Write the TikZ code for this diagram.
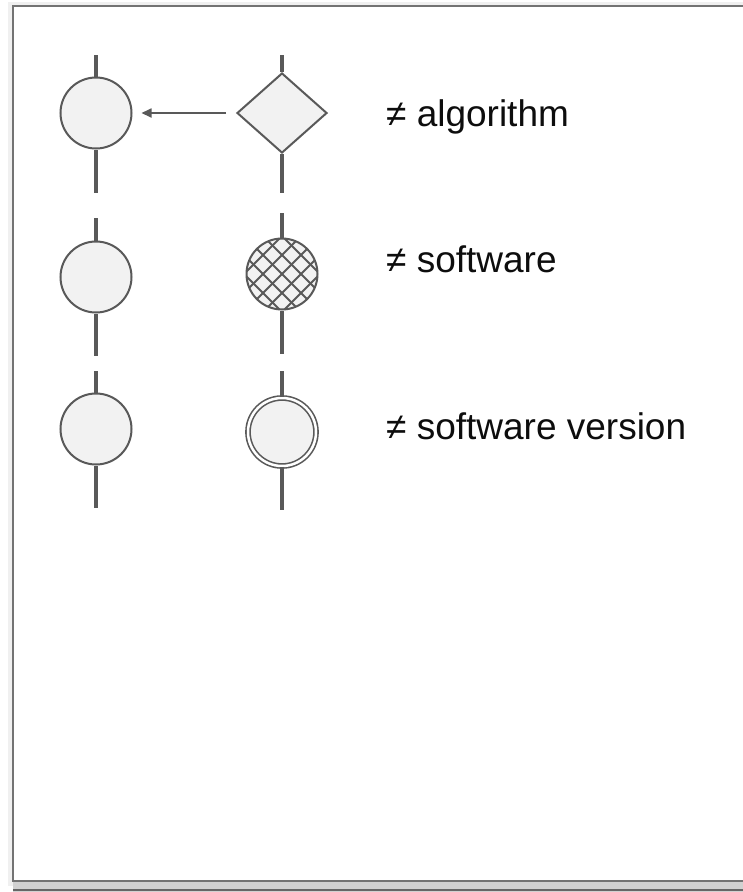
\documentclass[tikz,border=0pt]{standalone}
\usepackage{fontspec}
\setmainfont{Liberation Sans}
\usetikzlibrary{shapes.geometric,arrows.meta}
\definecolor{ink}{HTML}{595959}
\definecolor{paper}{HTML}{F2F2F2}
\begin{document}
\begin{tikzpicture}[x=1pt, y=-1pt
	, blob/.style={circle, draw=ink, fill=paper, line width=2pt
		, minimum size=71pt, inner sep=0pt}
	, rhomb/.style={diamond, draw=ink, fill=paper, line width=2pt
		, minimum width=90pt, minimum height=80pt, inner sep=0pt}
	, hatched/.style={blob, path picture={
		\foreach \k in {-76,-57,...,76}{
			\draw[ink, line width=2pt] ([shift={(\k-50,-50)}]path picture bounding box.center) -- ++(100,100);
			\draw[ink, line width=2pt] ([shift={(\k-50,50)}]path picture bounding box.center) -- ++(100,-100);
		}
	}}
	, ring/.style={blob, minimum size=68pt, line width=1.6pt
		, double=white, double distance=2.5pt}
	, stem/.style={draw=ink, line width=4pt}
	, link/.style={draw=ink, line width=1.7pt, -{Triangle[length=10pt, width=9pt]}
		, shorten <=10pt, shorten >=9pt}
	, lbl/.style={anchor=base west, inner sep=0pt, text=black!95
		, font=\fontsize{37}{44}\selectfont}
]

\useasboundingbox (0,0) rectangle (743,892);

% page
\fill[black!6] (8,2) rectangle (743,886);
\filldraw[fill=white, draw=black!55, line width=1.5pt] (13,6) rectangle (760,881);
\fill[black!18] (13,882) rectangle (743,892);
\draw[black!60, line width=1.5pt] (13,890) -- (743,890);

% shapes
\node[blob](a1) at(96,113) {};
\node[rhomb](d1) at(282,113) {};
\node[blob](a2) at(96,277) {};
\node[hatched](h2) at(282,274) {};
\node[blob](a3) at(96,429) {};
\node[ring](v3) at(282,432) {};

% stems above and below
\foreach \n/\t/\b in {
	a1/55/193
	, d1/55/193
	, a2/218/356
	, h2/213/354
	, a3/371/508
	, v3/371/510
}{
	\coordinate(\n-top) at(\n |- 0,\t);
	\coordinate(\n-bot) at(\n |- 0,\b);
	\draw[stem] (\n) -- (\n-top);
	\draw[stem] (\n) -- (\n-bot);
}

\draw[link] (d1) -- (a1);

\node[lbl](t1) at(386,126) {≠ algorithm};
\node[lbl](t2) at(386,272) {≠ software};
\node[lbl](t3) at(386,439) {≠ software version};

\end{tikzpicture}
\end{document}
